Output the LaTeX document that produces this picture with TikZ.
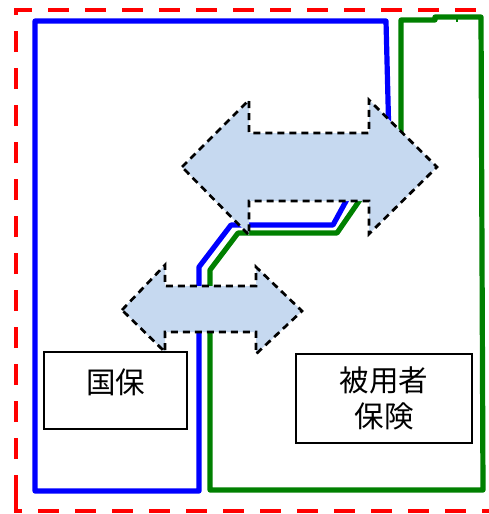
\documentclass[tikz,border=0pt]{standalone}
\usepackage{fontspec}
\newfontfamily\cjkfont{Noto Sans CJK JP}
\definecolor{arrowfill}{RGB}{198,217,240}
\definecolor{grn}{RGB}{0,128,0}
\tikzset{
  frame/.style={draw=red, line width=4.5pt, dash pattern=on 21pt off 16pt},
  blueline/.style={draw=blue, line width=5.2pt, line join=round, line cap=round},
  greenline/.style={draw=grn, line width=5.2pt, line join=round, line cap=round},
  bigarrow/.style={fill=arrowfill, draw=black, line width=2.7pt, dash pattern=on 7pt off 5pt, line join=miter},
  labelbox/.style={draw=black, line width=2.2pt, fill=white, inner sep=0pt, align=center},
  labeltext/.style={font=\cjkfont\fontsize{29.5}{36}\selectfont}
}
\begin{document}
\begin{tikzpicture}[x=1pt,y=-1pt]
\useasboundingbox (0,0) rectangle (489,514);
\fill[white] (0,0) rectangle (489,514);
% red dashed frame
\draw[frame] (16,496) -- (16,10) -- (500,10);
\draw[frame] (16,496) -- (16,511) -- (500,511);
% blue region
\draw[blueline] (35,491) -- (35,21) -- (386,21) -- (389,140) -- (363,170) -- (333,225) -- (231,225) -- (199,267) -- (199,491) -- cycle;
% green region
\draw[greenline] (210,490) -- (210,270) -- (238,233) -- (337,233) -- (375,178) -- (401,140) -- (401,20) -- (413,20) -- (435,20) -- (435,17) -- (481,17) -- (483,490) -- cycle;
\draw[grn, line width=2pt] (457,17) -- (457,22);
% big double arrow
\draw[bigarrow] (182,167) -- (249,100) -- (249,133) -- (369,133) -- (369,100) -- (437,167) -- (369,234) -- (369,201) -- (249,201) -- (249,235) -- cycle;
% small double arrow
\draw[bigarrow] (122,310) -- (165,265) -- (165,286) -- (256,286) -- (256,267) -- (302,311) -- (256,354) -- (256,332) -- (165,332) -- (165,352) -- cycle;
% boxes
\node[labelbox, labeltext, minimum width=143pt, minimum height=77pt, text height=26pt, text depth=20pt] (kokuho) at (115.5,390.5) {国保};
\node[labelbox, labeltext, minimum width=176pt, minimum height=89pt] (hiyosha) at (384,398.5) {被用者\\保険};
\end{tikzpicture}
\end{document}
